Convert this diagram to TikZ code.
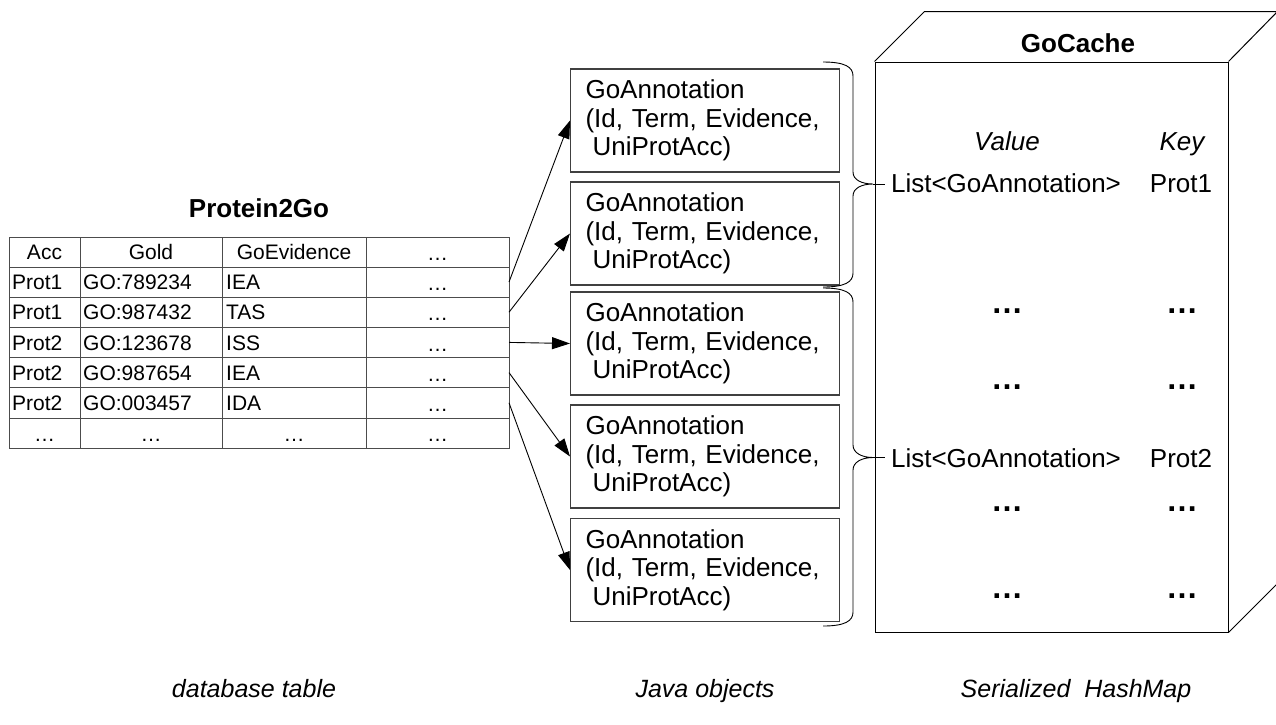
\documentclass[tikz,border=0pt]{standalone}
\usepackage{fontspec}
\setmainfont{Liberation Sans}
\usetikzlibrary{arrows.meta}
\begin{document}
\begin{tikzpicture}[x=1pt,y=-1pt,
  tline/.style={draw=black!70, line width=1pt},
  cell/.style={anchor=base west, inner sep=0pt, font=\fontsize{21}{24}\selectfont},
  ccell/.style={anchor=base, inner sep=0pt, font=\fontsize{21}{24}\selectfont},
  heading/.style={anchor=base, inner sep=0pt, font=\fontsize{26}{30}\selectfont\bfseries},
  annot/.style={draw=black!75, line width=1.1pt, minimum width=269pt, minimum height=103pt,
    text width=239pt, inner xsep=15pt, inner ysep=0pt, align=left, anchor=west,
    font=\fontsize{26}{28.5}\selectfont},
  link/.style={-{Triangle[length=18pt,width=12pt]}, line width=0.9pt},
  brc/.style={line width=0.9pt},
  cubeface/.style={draw, line width=1pt, minimum width=353pt, minimum height=570pt, inner sep=0pt},
  entry/.style={anchor=base, inner sep=0pt, font=\fontsize{26}{30}\selectfont},
  colhead/.style={anchor=base, inner sep=0pt, font=\fontsize{26}{30}\selectfont\itshape},
  more/.style={anchor=base, inner sep=0pt, font=\fontsize{32}{36}\selectfont\bfseries},
  capt/.style={anchor=base, inner sep=0pt, font=\fontsize{25}{30}\selectfont\itshape}
]
\useasboundingbox (0,0) rectangle (1276,724);

% ---- database table Protein2Go ----
\node[heading] (tabtitle) at (259,217.3) {Protein2Go};
\draw[tline] (9,237) rectangle (509,448);
\foreach \yy in {267,297.2,327.4,357.6,387.8,418} \draw[tline] (9,\yy) -- (509,\yy);
\foreach \xx in {80,222,366} \draw[tline] (\xx,237) -- (\xx,448);

\node[ccell] (hacc) at (44.5,259.6) {Acc};
\node[ccell] (hgo) at (151,259.6) {Gold};
\node[ccell] (hev) at (294,259.6) {GoEvidence};
\node[ccell] (hmore) at (437.5,260.6) {…};

\foreach \a/\g/\e [count=\i] in {Prot1/GO:789234/IEA, Prot1/GO:987432/TAS,
    Prot2/GO:123678/ISS, Prot2/GO:987654/IEA, Prot2/GO:003457/IDA} {
  \pgfmathsetmacro\yb{267+30.2*(\i-1)+15+7.6}
  \node[cell] (acc\i) at (12,\yb) {\a};
  \node[cell] (go\i) at (83,\yb) {\g};
  \node[cell] (ev\i) at (226,\yb) {\e};
  \node[ccell] (more\i) at (437.5,\yb+1) {…};
  \coordinate (row\i) at (509,\yb-7.6);
}
\node[ccell] (lacc) at (44.5,441.6) {…};
\node[ccell] (lgo) at (151,441.6) {…};
\node[ccell] (lev) at (294,441.6) {…};
\node[ccell] (lmore) at (437.5,441.6) {…};

% ---- Java objects ----
\node[annot] (g1) at (570,120.5) {GoAnnotation\\(Id, Term, Evidence,\\\hspace*{7pt}UniProtAcc)};
\node[annot] (g2) at (570,233.5) {GoAnnotation\\(Id, Term, Evidence,\\\hspace*{7pt}UniProtAcc)};
\node[annot] (g3) at (570,343.5) {GoAnnotation\\(Id, Term, Evidence,\\\hspace*{7pt}UniProtAcc)};
\node[annot] (g4) at (570,456.5) {GoAnnotation\\(Id, Term, Evidence,\\\hspace*{7pt}UniProtAcc)};
\node[annot] (g5) at (570,570) {GoAnnotation\\(Id, Term, Evidence,\\\hspace*{7pt}UniProtAcc)};

\draw[link] (row1) -- (g1.west);
\draw[link] (row2) -- (g2.west);
\draw[link] (row3) -- (g3.west);
\draw[link] (row4) -- (g4.west);
\draw[link] (row5) -- (g5.west);

% ---- braces grouping the objects per protein ----
\draw[brc] (823,62) .. controls (845,62) and (853,67) .. (853,76) -- (853,172)
  .. controls (853,180) and (862,184) .. (873,184)
  .. controls (862,184) and (853,188) .. (853,196) -- (853,273)
  .. controls (853,282) and (845,287) .. (823,287);
\draw[brc] (823,288) .. controls (845,288) and (853,293) .. (853,302) -- (853,445)
  .. controls (853,453) and (862,457.5) .. (873,457.5)
  .. controls (862,457.5) and (853,462) .. (853,470) -- (853,612)
  .. controls (853,621) and (845,626) .. (823,626);

% ---- serialized cache drawn as a box ----
\node[cubeface] (cache) at (1051.5,347) {};
\draw[line width=1pt] (cache.north west) -- ++(50,-50) -- ++(353,0) -- (cache.north east);
\draw[line width=1pt] (cache.south east) -- ++(50,-50) -- ++(0,-570);
\node[heading] (cachetitle) at (1078,52.3) {GoCache};

\draw[brc] (873,184) -- (885,184);
\draw[brc] (873,457.5) -- (885,457.5);

\node[colhead] (vhead) at (1007,150.4) {Value};
\node[colhead] (khead) at (1182,150.4) {Key};
\node[entry] (v1) at (1006,192.4) {List<GoAnnotation>};
\node[entry] (k1) at (1181,192.4) {Prot1};
\node[more] (v2) at (1007,313) {…};
\node[more] (k2) at (1182,313) {…};
\node[more] (v3) at (1007,389) {…};
\node[more] (k3) at (1182,389) {…};
\node[entry] (v4) at (1006,467.4) {List<GoAnnotation>};
\node[entry] (k4) at (1181,467.4) {Prot2};
\node[more] (v5) at (1007,511) {…};
\node[more] (k5) at (1182,511) {…};
\node[more] (v6) at (1007,598) {…};
\node[more] (k6) at (1182,598) {…};

% ---- captions ----
\node[capt] (c1) at (254,697) {database table};
\node[capt] (c2) at (705,697) {Java objects};
\node[capt] (c3) at (1076,697) {Serialized\ \ HashMap};
\end{tikzpicture}
\end{document}
